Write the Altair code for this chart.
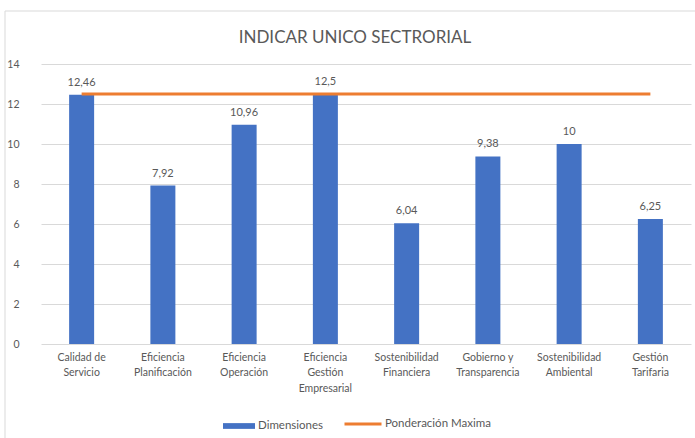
import altair as alt
import pandas as pd

categories = [
    "Calidad de\nServicio",
    "Eficiencia\nPlanificación",
    "Eficiencia\nOperación",
    "Eficiencia\nGestión\nEmpresarial",
    "Sostenibilidad\nFinanciera",
    "Gobierno y\nTransparencia",
    "Sostenibilidad\nAmbiental",
    "Gestión\nTarifaria",
]
dimensiones = [12.46, 7.92, 10.96, 12.5, 6.04, 9.38, 10, 6.25]
ponderacion = [12.5, 12.5, 12.5, 12.5, 12.5, 12.5, 12.5, 12.5]
y_ticks = [0, 2, 4, 6, 8, 10, 12, 14]
title_text = "INDICAR UNICO SECTRORIAL"
series_names = ["Dimensiones", "Ponderación Maxima"]

FONT = "Lato"
GRAY = "#595959"
BLUE = "#4472C4"
ORANGE = "#ED7D31"

bars = pd.DataFrame({
    "cat": categories,
    "value": dimensiones,
    "label": [f"{v:g}".replace(".", ",") for v in dimensiones],
    "series": series_names[0],
})
line = pd.DataFrame({"cat": categories, "value": ponderacion, "series": series_names[1]})

x = alt.X(
    "cat:N", sort=categories, title=None,
    axis=alt.Axis(labelAngle=0, labelExpr="split(datum.value, '\\n')", labelFont=FONT,
                  labelFontSize=10.5, labelColor=GRAY, labelLineHeight=15.5, labelPadding=8,
                  ticks=False, domain=False, grid=False, labelLimit=200),
    scale=alt.Scale(paddingInner=0, paddingOuter=0),
)
y = alt.Y(
    "value:Q", title=None,
    scale=alt.Scale(domain=[0, 14], nice=False),
    axis=alt.Axis(values=y_ticks, labelFont=FONT, labelFontSize=10.5, labelColor=GRAY,
                  labelPadding=22, ticks=False, domain=False, gridColor="#D9D9D9", gridWidth=1),
)

fill = alt.Fill(
    "series:N",
    scale=alt.Scale(domain=[series_names[0]], range=[BLUE]),
    legend=alt.Legend(
        title=None, orient="none", direction="horizontal", legendX=182, legendY=346,
        symbolType="M-1,-0.18H1V0.18H-1Z", symbolSize=1024, symbolStrokeWidth=0,
        labelFont=FONT, labelFontSize=11.5, labelColor=GRAY, labelOffset=3,
    ),
)
stroke = alt.Stroke(
    "series:N",
    scale=alt.Scale(domain=[series_names[1]], range=[ORANGE]),
    legend=alt.Legend(
        title=None, orient="none", direction="horizontal", legendX=302, legendY=340,
        symbolType="stroke", symbolSize=1369, symbolStrokeWidth=3,
        labelFont=FONT, labelFontSize=11.5, labelColor=GRAY, labelOffset=2,
    ),
)

bar_layer = alt.Chart(bars).mark_bar(size=25).encode(x=x, y=y, fill=fill)
text_layer = alt.Chart(bars).mark_text(dy=-12, font=FONT, fontSize=11, color=GRAY).encode(
    x=x, y=y, text="label:N")
line_layer = alt.Chart(line).mark_line(strokeWidth=3).encode(x=x, y=y, stroke=stroke)

title_layer = alt.Chart(pd.DataFrame({"t": [title_text]})).mark_text(
    font=FONT, fontSize=17, color=GRAY, baseline="middle", align="center"
).encode(x=alt.value(314), y=alt.value(-26), text="t:N")

border = alt.Chart(pd.DataFrame({"b": [0]})).mark_rect(
    fill=None, stroke="#D9D9D9", strokeWidth=1
).encode(x=alt.value(-36), x2=alt.value(700), y=alt.value(-53), y2=alt.value(420))

chart = alt.layer(border, bar_layer, line_layer, text_layer, title_layer).properties(
    width=650, height=280,
    autosize=alt.AutoSizeParams(type="none"),
    padding={"left": 41, "top": 64, "right": 4, "bottom": 94},
).resolve_legend(fill="independent", stroke="independent").configure_view(stroke=None)

chart.save("out.html", embed_options={"renderer": "svg", "actions": False})
